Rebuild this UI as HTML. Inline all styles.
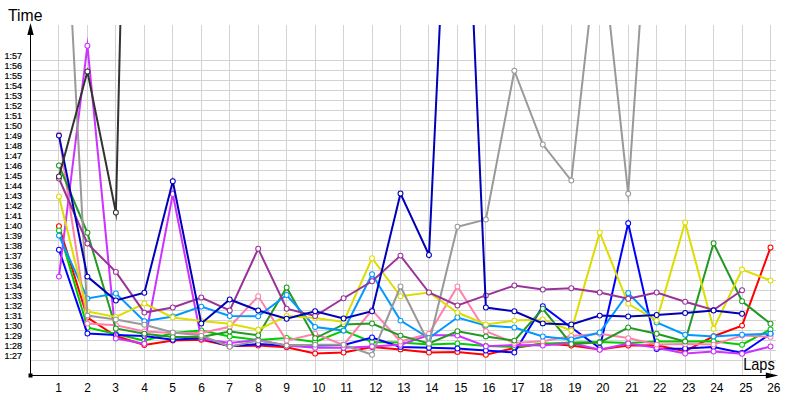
<!DOCTYPE html>
<html><head><meta charset="utf-8"><title>Lap times</title>
<style>
html,body{margin:0;padding:0;background:#fff;}
body{width:800px;height:400px;overflow:hidden;}
svg{display:block;}
text{font-family:"Liberation Sans","DejaVu Sans",sans-serif;fill:#000;}
.yl{font-size:9.7px;stroke:#000;stroke-width:0.2px;}
.xl{font-size:12px;}
.t{font-size:17px;}
.g{stroke:#d3d3d3;stroke-width:1;shape-rendering:crispEdges;}
.ax{stroke:#000;stroke-width:1;shape-rendering:crispEdges;}
.ln{fill:none;stroke-width:2;stroke-linejoin:miter;stroke-miterlimit:12;stroke-linecap:butt;}
.mk{fill:#fff;stroke-width:1.05;}
</style></head><body>
<svg width="800" height="400" viewBox="0 0 800 400">
<defs><clipPath id="cp"><rect x="31" y="25" width="760" height="350"/></clipPath></defs>
<rect width="800" height="400" fill="#fff"/>

<g class="g">
<line x1="31" y1="60.5" x2="776" y2="60.5"/>
<line x1="31" y1="70.5" x2="776" y2="70.5"/>
<line x1="31" y1="80.5" x2="776" y2="80.5"/>
<line x1="31" y1="90.5" x2="776" y2="90.5"/>
<line x1="31" y1="100.5" x2="776" y2="100.5"/>
<line x1="31" y1="110.5" x2="776" y2="110.5"/>
<line x1="31" y1="120.5" x2="776" y2="120.5"/>
<line x1="31" y1="130.5" x2="776" y2="130.5"/>
<line x1="31" y1="140.5" x2="776" y2="140.5"/>
<line x1="31" y1="150.5" x2="776" y2="150.5"/>
<line x1="31" y1="160.5" x2="776" y2="160.5"/>
<line x1="31" y1="170.5" x2="776" y2="170.5"/>
<line x1="31" y1="180.5" x2="776" y2="180.5"/>
<line x1="31" y1="190.5" x2="776" y2="190.5"/>
<line x1="31" y1="200.5" x2="776" y2="200.5"/>
<line x1="31" y1="210.5" x2="776" y2="210.5"/>
<line x1="31" y1="220.5" x2="776" y2="220.5"/>
<line x1="31" y1="230.5" x2="776" y2="230.5"/>
<line x1="31" y1="240.5" x2="776" y2="240.5"/>
<line x1="31" y1="250.5" x2="776" y2="250.5"/>
<line x1="31" y1="260.5" x2="776" y2="260.5"/>
<line x1="31" y1="270.5" x2="776" y2="270.5"/>
<line x1="31" y1="280.5" x2="776" y2="280.5"/>
<line x1="31" y1="290.5" x2="776" y2="290.5"/>
<line x1="31" y1="300.5" x2="776" y2="300.5"/>
<line x1="31" y1="310.5" x2="776" y2="310.5"/>
<line x1="31" y1="320.5" x2="776" y2="320.5"/>
<line x1="31" y1="330.5" x2="776" y2="330.5"/>
<line x1="31" y1="340.5" x2="776" y2="340.5"/>
<line x1="31" y1="350.5" x2="776" y2="350.5"/>
<line x1="31" y1="360.5" x2="776" y2="360.5"/>
<line x1="58.5" y1="25" x2="58.5" y2="375"/>
<line x1="87.5" y1="25" x2="87.5" y2="375"/>
<line x1="115.5" y1="25" x2="115.5" y2="375"/>
<line x1="144.5" y1="25" x2="144.5" y2="375"/>
<line x1="172.5" y1="25" x2="172.5" y2="375"/>
<line x1="201.5" y1="25" x2="201.5" y2="375"/>
<line x1="229.5" y1="25" x2="229.5" y2="375"/>
<line x1="258.5" y1="25" x2="258.5" y2="375"/>
<line x1="286.5" y1="25" x2="286.5" y2="375"/>
<line x1="315.5" y1="25" x2="315.5" y2="375"/>
<line x1="343.5" y1="25" x2="343.5" y2="375"/>
<line x1="372.5" y1="25" x2="372.5" y2="375"/>
<line x1="400.5" y1="25" x2="400.5" y2="375"/>
<line x1="428.5" y1="25" x2="428.5" y2="375"/>
<line x1="457.5" y1="25" x2="457.5" y2="375"/>
<line x1="485.5" y1="25" x2="485.5" y2="375"/>
<line x1="514.5" y1="25" x2="514.5" y2="375"/>
<line x1="542.5" y1="25" x2="542.5" y2="375"/>
<line x1="571.5" y1="25" x2="571.5" y2="375"/>
<line x1="599.5" y1="25" x2="599.5" y2="375"/>
<line x1="628.5" y1="25" x2="628.5" y2="375"/>
<line x1="656.5" y1="25" x2="656.5" y2="375"/>
<line x1="685.5" y1="25" x2="685.5" y2="375"/>
<line x1="713.5" y1="25" x2="713.5" y2="375"/>
<line x1="742.5" y1="25" x2="742.5" y2="375"/>
<line x1="770.5" y1="25" x2="770.5" y2="375"/>
</g>
<g clip-path="url(#cp)">
<g stroke="#ff0000"><polyline class="ln" points="58.96,226.25 87.42,317.5 115.88,336 144.35,345 172.81,340.6 201.27,339.75 229.73,346 258.19,345.6 286.65,347.25 315.12,353.5 343.58,352.5 372.04,347 400.50,349.4 428.96,352.5 457.42,351.9 485.88,354.75 514.35,348 542.81,343.5 571.27,345.6 599.73,349.4 628.19,345.6 656.65,345.3 685.12,351.25 713.58,336.25 742.04,325.6 770.50,247.5"/>
<circle class="mk" cx="58.96" cy="226.25" r="2.45"/>
<circle class="mk" cx="87.42" cy="317.5" r="2.45"/>
<circle class="mk" cx="115.88" cy="336" r="2.45"/>
<circle class="mk" cx="144.35" cy="345" r="2.45"/>
<circle class="mk" cx="172.81" cy="340.6" r="2.45"/>
<circle class="mk" cx="201.27" cy="339.75" r="2.45"/>
<circle class="mk" cx="229.73" cy="346" r="2.45"/>
<circle class="mk" cx="258.19" cy="345.6" r="2.45"/>
<circle class="mk" cx="286.65" cy="347.25" r="2.45"/>
<circle class="mk" cx="315.12" cy="353.5" r="2.45"/>
<circle class="mk" cx="343.58" cy="352.5" r="2.45"/>
<circle class="mk" cx="372.04" cy="347" r="2.45"/>
<circle class="mk" cx="400.50" cy="349.4" r="2.45"/>
<circle class="mk" cx="428.96" cy="352.5" r="2.45"/>
<circle class="mk" cx="457.42" cy="351.9" r="2.45"/>
<circle class="mk" cx="485.88" cy="354.75" r="2.45"/>
<circle class="mk" cx="514.35" cy="348" r="2.45"/>
<circle class="mk" cx="542.81" cy="343.5" r="2.45"/>
<circle class="mk" cx="571.27" cy="345.6" r="2.45"/>
<circle class="mk" cx="599.73" cy="349.4" r="2.45"/>
<circle class="mk" cx="628.19" cy="345.6" r="2.45"/>
<circle class="mk" cx="656.65" cy="345.3" r="2.45"/>
<circle class="mk" cx="685.12" cy="351.25" r="2.45"/>
<circle class="mk" cx="713.58" cy="336.25" r="2.45"/>
<circle class="mk" cx="742.04" cy="325.6" r="2.45"/>
<circle class="mk" cx="770.50" cy="247.5" r="2.45"/>
</g>
<g stroke="#00cc00"><polyline class="ln" points="58.96,230.4 87.42,327.5 115.88,334 144.35,340.6 172.81,333 201.27,330.5 229.73,336.5 258.19,340 286.65,338 315.12,342 343.58,330.6 372.04,341.9 400.50,342.5 428.96,344.4 457.42,343.5 485.88,346 514.35,347 542.81,343.75 571.27,342.5 599.73,341.9 628.19,343 656.65,341.5 685.12,341.5 713.58,341.25 742.04,344.75 770.50,329.4"/>
<circle class="mk" cx="58.96" cy="230.4" r="2.45"/>
<circle class="mk" cx="87.42" cy="327.5" r="2.45"/>
<circle class="mk" cx="115.88" cy="334" r="2.45"/>
<circle class="mk" cx="144.35" cy="340.6" r="2.45"/>
<circle class="mk" cx="172.81" cy="333" r="2.45"/>
<circle class="mk" cx="201.27" cy="330.5" r="2.45"/>
<circle class="mk" cx="229.73" cy="336.5" r="2.45"/>
<circle class="mk" cx="258.19" cy="340" r="2.45"/>
<circle class="mk" cx="286.65" cy="338" r="2.45"/>
<circle class="mk" cx="315.12" cy="342" r="2.45"/>
<circle class="mk" cx="343.58" cy="330.6" r="2.45"/>
<circle class="mk" cx="372.04" cy="341.9" r="2.45"/>
<circle class="mk" cx="400.50" cy="342.5" r="2.45"/>
<circle class="mk" cx="428.96" cy="344.4" r="2.45"/>
<circle class="mk" cx="457.42" cy="343.5" r="2.45"/>
<circle class="mk" cx="485.88" cy="346" r="2.45"/>
<circle class="mk" cx="514.35" cy="347" r="2.45"/>
<circle class="mk" cx="542.81" cy="343.75" r="2.45"/>
<circle class="mk" cx="571.27" cy="342.5" r="2.45"/>
<circle class="mk" cx="599.73" cy="341.9" r="2.45"/>
<circle class="mk" cx="628.19" cy="343" r="2.45"/>
<circle class="mk" cx="656.65" cy="341.5" r="2.45"/>
<circle class="mk" cx="685.12" cy="341.5" r="2.45"/>
<circle class="mk" cx="713.58" cy="341.25" r="2.45"/>
<circle class="mk" cx="742.04" cy="344.75" r="2.45"/>
<circle class="mk" cx="770.50" cy="329.4" r="2.45"/>
</g>
<g stroke="#0000ff"><polyline class="ln" points="58.96,249.75 87.42,333.5 115.88,335 144.35,336 172.81,339.75 201.27,338 229.73,346.25 258.19,344 286.65,345.6 315.12,345.6 343.58,345 372.04,337.5 400.50,346.9 428.96,347.75 457.42,348.5 485.88,350.6 514.35,352.5 542.81,306.25 571.27,327.5 599.73,348 628.19,223.25 656.65,349 685.12,348.5 713.58,346.9 742.04,353 770.50,333.75"/>
<circle class="mk" cx="58.96" cy="249.75" r="2.45"/>
<circle class="mk" cx="87.42" cy="333.5" r="2.45"/>
<circle class="mk" cx="115.88" cy="335" r="2.45"/>
<circle class="mk" cx="144.35" cy="336" r="2.45"/>
<circle class="mk" cx="172.81" cy="339.75" r="2.45"/>
<circle class="mk" cx="201.27" cy="338" r="2.45"/>
<circle class="mk" cx="229.73" cy="346.25" r="2.45"/>
<circle class="mk" cx="258.19" cy="344" r="2.45"/>
<circle class="mk" cx="286.65" cy="345.6" r="2.45"/>
<circle class="mk" cx="315.12" cy="345.6" r="2.45"/>
<circle class="mk" cx="343.58" cy="345" r="2.45"/>
<circle class="mk" cx="372.04" cy="337.5" r="2.45"/>
<circle class="mk" cx="400.50" cy="346.9" r="2.45"/>
<circle class="mk" cx="428.96" cy="347.75" r="2.45"/>
<circle class="mk" cx="457.42" cy="348.5" r="2.45"/>
<circle class="mk" cx="485.88" cy="350.6" r="2.45"/>
<circle class="mk" cx="514.35" cy="352.5" r="2.45"/>
<circle class="mk" cx="542.81" cy="306.25" r="2.45"/>
<circle class="mk" cx="571.27" cy="327.5" r="2.45"/>
<circle class="mk" cx="599.73" cy="348" r="2.45"/>
<circle class="mk" cx="628.19" cy="223.25" r="2.45"/>
<circle class="mk" cx="656.65" cy="349" r="2.45"/>
<circle class="mk" cx="685.12" cy="348.5" r="2.45"/>
<circle class="mk" cx="713.58" cy="346.9" r="2.45"/>
<circle class="mk" cx="742.04" cy="353" r="2.45"/>
<circle class="mk" cx="770.50" cy="333.75" r="2.45"/>
</g>
<g stroke="#cc33ff"><polyline class="ln" points="58.96,276.6 87.42,45.7 115.88,338.5 144.35,343.75 172.81,194 201.27,338.75 229.73,343 258.19,340 286.65,345.6 315.12,347.75 343.58,347.75 372.04,346.5 400.50,344.75 428.96,335 457.42,335.6 485.88,346.25 514.35,345 542.81,345.6 571.27,343 599.73,349.75 628.19,343.5 656.65,347.75 685.12,353.5 713.58,351.5 742.04,353.75 770.50,346.5"/>
<circle class="mk" cx="58.96" cy="276.6" r="2.45"/>
<circle class="mk" cx="87.42" cy="45.7" r="2.45"/>
<circle class="mk" cx="115.88" cy="338.5" r="2.45"/>
<circle class="mk" cx="144.35" cy="343.75" r="2.45"/>
<circle class="mk" cx="172.81" cy="194" r="2.45"/>
<circle class="mk" cx="201.27" cy="338.75" r="2.45"/>
<circle class="mk" cx="229.73" cy="343" r="2.45"/>
<circle class="mk" cx="258.19" cy="340" r="2.45"/>
<circle class="mk" cx="286.65" cy="345.6" r="2.45"/>
<circle class="mk" cx="315.12" cy="347.75" r="2.45"/>
<circle class="mk" cx="343.58" cy="347.75" r="2.45"/>
<circle class="mk" cx="372.04" cy="346.5" r="2.45"/>
<circle class="mk" cx="400.50" cy="344.75" r="2.45"/>
<circle class="mk" cx="428.96" cy="335" r="2.45"/>
<circle class="mk" cx="457.42" cy="335.6" r="2.45"/>
<circle class="mk" cx="485.88" cy="346.25" r="2.45"/>
<circle class="mk" cx="514.35" cy="345" r="2.45"/>
<circle class="mk" cx="542.81" cy="345.6" r="2.45"/>
<circle class="mk" cx="571.27" cy="343" r="2.45"/>
<circle class="mk" cx="599.73" cy="349.75" r="2.45"/>
<circle class="mk" cx="628.19" cy="343.5" r="2.45"/>
<circle class="mk" cx="656.65" cy="347.75" r="2.45"/>
<circle class="mk" cx="685.12" cy="353.5" r="2.45"/>
<circle class="mk" cx="713.58" cy="351.5" r="2.45"/>
<circle class="mk" cx="742.04" cy="353.75" r="2.45"/>
<circle class="mk" cx="770.50" cy="346.5" r="2.45"/>
</g>
<g stroke="#ff80aa"><polyline class="ln" points="58.96,134.5 87.42,323.6 115.88,325.3 144.35,331.5 172.81,333 201.27,333 229.73,326.8 258.19,296.25 286.65,340.6 315.12,333.75 343.58,345 372.04,310 400.50,341.5 428.96,333.75 457.42,286.5 485.88,331.25 514.35,343 542.81,341.25 571.27,336 599.73,333.75 628.19,338.1 656.65,344.6 685.12,344 713.58,344.6 742.04,335.6 770.50,336.9"/>
<circle class="mk" cx="58.96" cy="134.5" r="2.45"/>
<circle class="mk" cx="87.42" cy="323.6" r="2.45"/>
<circle class="mk" cx="115.88" cy="325.3" r="2.45"/>
<circle class="mk" cx="144.35" cy="331.5" r="2.45"/>
<circle class="mk" cx="172.81" cy="333" r="2.45"/>
<circle class="mk" cx="201.27" cy="333" r="2.45"/>
<circle class="mk" cx="229.73" cy="326.8" r="2.45"/>
<circle class="mk" cx="258.19" cy="296.25" r="2.45"/>
<circle class="mk" cx="286.65" cy="340.6" r="2.45"/>
<circle class="mk" cx="315.12" cy="333.75" r="2.45"/>
<circle class="mk" cx="343.58" cy="345" r="2.45"/>
<circle class="mk" cx="372.04" cy="310" r="2.45"/>
<circle class="mk" cx="400.50" cy="341.5" r="2.45"/>
<circle class="mk" cx="428.96" cy="333.75" r="2.45"/>
<circle class="mk" cx="457.42" cy="286.5" r="2.45"/>
<circle class="mk" cx="485.88" cy="331.25" r="2.45"/>
<circle class="mk" cx="514.35" cy="343" r="2.45"/>
<circle class="mk" cx="542.81" cy="341.25" r="2.45"/>
<circle class="mk" cx="571.27" cy="336" r="2.45"/>
<circle class="mk" cx="599.73" cy="333.75" r="2.45"/>
<circle class="mk" cx="628.19" cy="338.1" r="2.45"/>
<circle class="mk" cx="656.65" cy="344.6" r="2.45"/>
<circle class="mk" cx="685.12" cy="344" r="2.45"/>
<circle class="mk" cx="713.58" cy="344.6" r="2.45"/>
<circle class="mk" cx="742.04" cy="335.6" r="2.45"/>
<circle class="mk" cx="770.50" cy="336.9" r="2.45"/>
</g>
<g stroke="#229922"><polyline class="ln" points="58.96,165.5 87.42,232.75 115.88,328.5 144.35,333.65 172.81,336.9 201.27,337 229.73,331.5 258.19,335.25 286.65,287.5 315.12,338.3 343.58,324.4 372.04,323.5 400.50,335.6 428.96,343.5 457.42,331.25 485.88,336.4 514.35,340.6 542.81,308.75 571.27,344 599.73,342.4 628.19,327.5 656.65,333.75 685.12,341.5 713.58,243.25 742.04,301.25 770.50,323.75"/>
<circle class="mk" cx="58.96" cy="165.5" r="2.45"/>
<circle class="mk" cx="87.42" cy="232.75" r="2.45"/>
<circle class="mk" cx="115.88" cy="328.5" r="2.45"/>
<circle class="mk" cx="144.35" cy="333.65" r="2.45"/>
<circle class="mk" cx="172.81" cy="336.9" r="2.45"/>
<circle class="mk" cx="201.27" cy="337" r="2.45"/>
<circle class="mk" cx="229.73" cy="331.5" r="2.45"/>
<circle class="mk" cx="258.19" cy="335.25" r="2.45"/>
<circle class="mk" cx="286.65" cy="287.5" r="2.45"/>
<circle class="mk" cx="315.12" cy="338.3" r="2.45"/>
<circle class="mk" cx="343.58" cy="324.4" r="2.45"/>
<circle class="mk" cx="372.04" cy="323.5" r="2.45"/>
<circle class="mk" cx="400.50" cy="335.6" r="2.45"/>
<circle class="mk" cx="428.96" cy="343.5" r="2.45"/>
<circle class="mk" cx="457.42" cy="331.25" r="2.45"/>
<circle class="mk" cx="485.88" cy="336.4" r="2.45"/>
<circle class="mk" cx="514.35" cy="340.6" r="2.45"/>
<circle class="mk" cx="542.81" cy="308.75" r="2.45"/>
<circle class="mk" cx="571.27" cy="344" r="2.45"/>
<circle class="mk" cx="599.73" cy="342.4" r="2.45"/>
<circle class="mk" cx="628.19" cy="327.5" r="2.45"/>
<circle class="mk" cx="656.65" cy="333.75" r="2.45"/>
<circle class="mk" cx="685.12" cy="341.5" r="2.45"/>
<circle class="mk" cx="713.58" cy="243.25" r="2.45"/>
<circle class="mk" cx="742.04" cy="301.25" r="2.45"/>
<circle class="mk" cx="770.50" cy="323.75" r="2.45"/>
</g>
<g stroke="#0099ff"><polyline class="ln" points="58.96,235.6 87.42,298.5 115.88,293.5 144.35,321.25 172.81,316.5 201.27,306.6 229.73,316 258.19,316.25 286.65,295 315.12,327 343.58,330.6 372.04,274.25 400.50,320.6 428.96,338 457.42,317.5 485.88,325.6 514.35,327.5 542.81,336.5 571.27,339.4 599.73,332.5 628.19,293 656.65,322.5 685.12,334.75 713.58,336.5 742.04,334.75 770.50,333.75"/>
<circle class="mk" cx="58.96" cy="235.6" r="2.45"/>
<circle class="mk" cx="87.42" cy="298.5" r="2.45"/>
<circle class="mk" cx="115.88" cy="293.5" r="2.45"/>
<circle class="mk" cx="144.35" cy="321.25" r="2.45"/>
<circle class="mk" cx="172.81" cy="316.5" r="2.45"/>
<circle class="mk" cx="201.27" cy="306.6" r="2.45"/>
<circle class="mk" cx="229.73" cy="316" r="2.45"/>
<circle class="mk" cx="258.19" cy="316.25" r="2.45"/>
<circle class="mk" cx="286.65" cy="295" r="2.45"/>
<circle class="mk" cx="315.12" cy="327" r="2.45"/>
<circle class="mk" cx="343.58" cy="330.6" r="2.45"/>
<circle class="mk" cx="372.04" cy="274.25" r="2.45"/>
<circle class="mk" cx="400.50" cy="320.6" r="2.45"/>
<circle class="mk" cx="428.96" cy="338" r="2.45"/>
<circle class="mk" cx="457.42" cy="317.5" r="2.45"/>
<circle class="mk" cx="485.88" cy="325.6" r="2.45"/>
<circle class="mk" cx="514.35" cy="327.5" r="2.45"/>
<circle class="mk" cx="542.81" cy="336.5" r="2.45"/>
<circle class="mk" cx="571.27" cy="339.4" r="2.45"/>
<circle class="mk" cx="599.73" cy="332.5" r="2.45"/>
<circle class="mk" cx="628.19" cy="293" r="2.45"/>
<circle class="mk" cx="656.65" cy="322.5" r="2.45"/>
<circle class="mk" cx="685.12" cy="334.75" r="2.45"/>
<circle class="mk" cx="713.58" cy="336.5" r="2.45"/>
<circle class="mk" cx="742.04" cy="334.75" r="2.45"/>
<circle class="mk" cx="770.50" cy="333.75" r="2.45"/>
</g>
<g stroke="#dddd00"><polyline class="ln" points="58.96,196.5 87.42,311.5 115.88,317 144.35,303.5 172.81,317.5 201.27,321 229.73,323.75 258.19,329.75 286.65,316 315.12,318 343.58,322 372.04,258.25 400.50,296.25 428.96,292.5 457.42,312.5 485.88,324.4 514.35,320.6 542.81,319.4 571.27,330.6 599.73,232.5 628.19,303.75 656.65,320.6 685.12,222.5 713.58,328.75 742.04,269.5 770.50,280.5"/>
<circle class="mk" cx="58.96" cy="196.5" r="2.45"/>
<circle class="mk" cx="87.42" cy="311.5" r="2.45"/>
<circle class="mk" cx="115.88" cy="317" r="2.45"/>
<circle class="mk" cx="144.35" cy="303.5" r="2.45"/>
<circle class="mk" cx="172.81" cy="317.5" r="2.45"/>
<circle class="mk" cx="201.27" cy="321" r="2.45"/>
<circle class="mk" cx="229.73" cy="323.75" r="2.45"/>
<circle class="mk" cx="258.19" cy="329.75" r="2.45"/>
<circle class="mk" cx="286.65" cy="316" r="2.45"/>
<circle class="mk" cx="315.12" cy="318" r="2.45"/>
<circle class="mk" cx="343.58" cy="322" r="2.45"/>
<circle class="mk" cx="372.04" cy="258.25" r="2.45"/>
<circle class="mk" cx="400.50" cy="296.25" r="2.45"/>
<circle class="mk" cx="428.96" cy="292.5" r="2.45"/>
<circle class="mk" cx="457.42" cy="312.5" r="2.45"/>
<circle class="mk" cx="485.88" cy="324.4" r="2.45"/>
<circle class="mk" cx="514.35" cy="320.6" r="2.45"/>
<circle class="mk" cx="542.81" cy="319.4" r="2.45"/>
<circle class="mk" cx="571.27" cy="330.6" r="2.45"/>
<circle class="mk" cx="599.73" cy="232.5" r="2.45"/>
<circle class="mk" cx="628.19" cy="303.75" r="2.45"/>
<circle class="mk" cx="656.65" cy="320.6" r="2.45"/>
<circle class="mk" cx="685.12" cy="222.5" r="2.45"/>
<circle class="mk" cx="713.58" cy="328.75" r="2.45"/>
<circle class="mk" cx="742.04" cy="269.5" r="2.45"/>
<circle class="mk" cx="770.50" cy="280.5" r="2.45"/>
</g>
<g stroke="#999999"><polyline class="ln" points="58.96,-230 87.42,315.6 115.88,319.5 144.35,324.75 172.81,332.5 201.27,335.6 229.73,346.75 258.19,340.6 286.65,345.6 315.12,344.75 343.58,344.75 372.04,354.75 400.50,286.5 428.96,343.5 457.42,226.75 485.88,219.5 514.35,70.75 542.81,144.5 571.27,180.5 599.73,-72 628.19,193.75 656.65,-223"/>
<circle class="mk" cx="87.42" cy="315.6" r="2.45"/>
<circle class="mk" cx="115.88" cy="319.5" r="2.45"/>
<circle class="mk" cx="144.35" cy="324.75" r="2.45"/>
<circle class="mk" cx="172.81" cy="332.5" r="2.45"/>
<circle class="mk" cx="201.27" cy="335.6" r="2.45"/>
<circle class="mk" cx="229.73" cy="346.75" r="2.45"/>
<circle class="mk" cx="258.19" cy="340.6" r="2.45"/>
<circle class="mk" cx="286.65" cy="345.6" r="2.45"/>
<circle class="mk" cx="315.12" cy="344.75" r="2.45"/>
<circle class="mk" cx="343.58" cy="344.75" r="2.45"/>
<circle class="mk" cx="372.04" cy="354.75" r="2.45"/>
<circle class="mk" cx="400.50" cy="286.5" r="2.45"/>
<circle class="mk" cx="428.96" cy="343.5" r="2.45"/>
<circle class="mk" cx="457.42" cy="226.75" r="2.45"/>
<circle class="mk" cx="485.88" cy="219.5" r="2.45"/>
<circle class="mk" cx="514.35" cy="70.75" r="2.45"/>
<circle class="mk" cx="542.81" cy="144.5" r="2.45"/>
<circle class="mk" cx="571.27" cy="180.5" r="2.45"/>
<circle class="mk" cx="628.19" cy="193.75" r="2.45"/>
</g>
<g stroke="#993399"><polyline class="ln" points="58.96,178.5 87.42,243.5 115.88,271.9 144.35,312.6 172.81,307.5 201.27,297.5 229.73,310.5 258.19,248.75 286.65,308.75 315.12,316 343.58,298.25 372.04,281.25 400.50,255.6 428.96,292.5 457.42,305.5 485.88,295.4 514.35,285.5 542.81,289.5 571.27,288.25 599.73,292.5 628.19,298.75 656.65,292.5 685.12,301.75 713.58,310 742.04,290.3"/>
<circle class="mk" cx="58.96" cy="178.5" r="2.45"/>
<circle class="mk" cx="87.42" cy="243.5" r="2.45"/>
<circle class="mk" cx="115.88" cy="271.9" r="2.45"/>
<circle class="mk" cx="144.35" cy="312.6" r="2.45"/>
<circle class="mk" cx="172.81" cy="307.5" r="2.45"/>
<circle class="mk" cx="201.27" cy="297.5" r="2.45"/>
<circle class="mk" cx="229.73" cy="310.5" r="2.45"/>
<circle class="mk" cx="258.19" cy="248.75" r="2.45"/>
<circle class="mk" cx="286.65" cy="308.75" r="2.45"/>
<circle class="mk" cx="315.12" cy="316" r="2.45"/>
<circle class="mk" cx="343.58" cy="298.25" r="2.45"/>
<circle class="mk" cx="372.04" cy="281.25" r="2.45"/>
<circle class="mk" cx="400.50" cy="255.6" r="2.45"/>
<circle class="mk" cx="428.96" cy="292.5" r="2.45"/>
<circle class="mk" cx="457.42" cy="305.5" r="2.45"/>
<circle class="mk" cx="485.88" cy="295.4" r="2.45"/>
<circle class="mk" cx="514.35" cy="285.5" r="2.45"/>
<circle class="mk" cx="542.81" cy="289.5" r="2.45"/>
<circle class="mk" cx="571.27" cy="288.25" r="2.45"/>
<circle class="mk" cx="599.73" cy="292.5" r="2.45"/>
<circle class="mk" cx="628.19" cy="298.75" r="2.45"/>
<circle class="mk" cx="656.65" cy="292.5" r="2.45"/>
<circle class="mk" cx="685.12" cy="301.75" r="2.45"/>
<circle class="mk" cx="713.58" cy="310" r="2.45"/>
<circle class="mk" cx="742.04" cy="290.3" r="2.45"/>
</g>
<g stroke="#0000b8"><polyline class="ln" points="58.96,135.6 87.42,276.6 115.88,300.5 144.35,292.75 172.81,181.25 201.27,323.5 229.73,299.5 258.19,310.5 286.65,318.75 315.12,311.25 343.58,318.5 372.04,311.25 400.50,193.5 428.96,255 457.42,-350 485.88,307.5 514.35,311.25 542.81,323.4 571.27,324.4 599.73,315.6 628.19,316.5 656.65,315 685.12,313 713.58,310.5 742.04,313.75"/>
<circle class="mk" cx="58.96" cy="135.6" r="2.45"/>
<circle class="mk" cx="87.42" cy="276.6" r="2.45"/>
<circle class="mk" cx="115.88" cy="300.5" r="2.45"/>
<circle class="mk" cx="144.35" cy="292.75" r="2.45"/>
<circle class="mk" cx="172.81" cy="181.25" r="2.45"/>
<circle class="mk" cx="201.27" cy="323.5" r="2.45"/>
<circle class="mk" cx="229.73" cy="299.5" r="2.45"/>
<circle class="mk" cx="258.19" cy="310.5" r="2.45"/>
<circle class="mk" cx="286.65" cy="318.75" r="2.45"/>
<circle class="mk" cx="315.12" cy="311.25" r="2.45"/>
<circle class="mk" cx="343.58" cy="318.5" r="2.45"/>
<circle class="mk" cx="372.04" cy="311.25" r="2.45"/>
<circle class="mk" cx="400.50" cy="193.5" r="2.45"/>
<circle class="mk" cx="428.96" cy="255" r="2.45"/>
<circle class="mk" cx="485.88" cy="307.5" r="2.45"/>
<circle class="mk" cx="514.35" cy="311.25" r="2.45"/>
<circle class="mk" cx="542.81" cy="323.4" r="2.45"/>
<circle class="mk" cx="571.27" cy="324.4" r="2.45"/>
<circle class="mk" cx="599.73" cy="315.6" r="2.45"/>
<circle class="mk" cx="628.19" cy="316.5" r="2.45"/>
<circle class="mk" cx="656.65" cy="315" r="2.45"/>
<circle class="mk" cx="685.12" cy="313" r="2.45"/>
<circle class="mk" cx="713.58" cy="310.5" r="2.45"/>
<circle class="mk" cx="742.04" cy="313.75" r="2.45"/>
</g>
<g stroke="#333333"><polyline class="ln" points="58.96,176.5 87.42,71.5 115.88,212.5 144.35,-985"/>
<circle class="mk" cx="58.96" cy="176.5" r="2.45"/>
<circle class="mk" cx="87.42" cy="71.5" r="2.45"/>
<circle class="mk" cx="115.88" cy="212.5" r="2.45"/>
</g>
</g>
<line class="ax" x1="30.5" y1="30" x2="30.5" y2="376"/>
<line class="ax" x1="30" y1="375.5" x2="775" y2="375.5"/>
<rect x="28.5" y="373.5" width="4" height="4" fill="#000"/>
<polygon points="30.5,23 33.7,35 27.3,35" fill="#000"/>
<polygon points="778.3,375.5 765.8,372.4 765.8,378.6" fill="#000"/>
<text class="t" x="8" y="21" textLength="34.4" lengthAdjust="spacingAndGlyphs">Time</text>
<text class="t" x="743.2" y="370.3" textLength="31.5" lengthAdjust="spacingAndGlyphs">Laps</text>
<text class="yl" x="4.5" y="59.0" textLength="17.5" lengthAdjust="spacingAndGlyphs">1:57</text>
<text class="yl" x="4.5" y="69.0" textLength="17.5" lengthAdjust="spacingAndGlyphs">1:56</text>
<text class="yl" x="4.5" y="79.0" textLength="17.5" lengthAdjust="spacingAndGlyphs">1:55</text>
<text class="yl" x="4.5" y="89.0" textLength="17.5" lengthAdjust="spacingAndGlyphs">1:54</text>
<text class="yl" x="4.5" y="99.0" textLength="17.5" lengthAdjust="spacingAndGlyphs">1:53</text>
<text class="yl" x="4.5" y="109.0" textLength="17.5" lengthAdjust="spacingAndGlyphs">1:52</text>
<text class="yl" x="4.5" y="119.0" textLength="17.5" lengthAdjust="spacingAndGlyphs">1:51</text>
<text class="yl" x="4.5" y="129.0" textLength="17.5" lengthAdjust="spacingAndGlyphs">1:50</text>
<text class="yl" x="4.5" y="139.0" textLength="17.5" lengthAdjust="spacingAndGlyphs">1:49</text>
<text class="yl" x="4.5" y="149.0" textLength="17.5" lengthAdjust="spacingAndGlyphs">1:48</text>
<text class="yl" x="4.5" y="159.0" textLength="17.5" lengthAdjust="spacingAndGlyphs">1:47</text>
<text class="yl" x="4.5" y="169.0" textLength="17.5" lengthAdjust="spacingAndGlyphs">1:46</text>
<text class="yl" x="4.5" y="179.0" textLength="17.5" lengthAdjust="spacingAndGlyphs">1:45</text>
<text class="yl" x="4.5" y="189.0" textLength="17.5" lengthAdjust="spacingAndGlyphs">1:44</text>
<text class="yl" x="4.5" y="199.0" textLength="17.5" lengthAdjust="spacingAndGlyphs">1:43</text>
<text class="yl" x="4.5" y="209.0" textLength="17.5" lengthAdjust="spacingAndGlyphs">1:42</text>
<text class="yl" x="4.5" y="219.0" textLength="17.5" lengthAdjust="spacingAndGlyphs">1:41</text>
<text class="yl" x="4.5" y="229.0" textLength="17.5" lengthAdjust="spacingAndGlyphs">1:40</text>
<text class="yl" x="4.5" y="239.0" textLength="17.5" lengthAdjust="spacingAndGlyphs">1:39</text>
<text class="yl" x="4.5" y="249.0" textLength="17.5" lengthAdjust="spacingAndGlyphs">1:38</text>
<text class="yl" x="4.5" y="259.0" textLength="17.5" lengthAdjust="spacingAndGlyphs">1:37</text>
<text class="yl" x="4.5" y="269.0" textLength="17.5" lengthAdjust="spacingAndGlyphs">1:36</text>
<text class="yl" x="4.5" y="279.0" textLength="17.5" lengthAdjust="spacingAndGlyphs">1:35</text>
<text class="yl" x="4.5" y="289.0" textLength="17.5" lengthAdjust="spacingAndGlyphs">1:34</text>
<text class="yl" x="4.5" y="299.0" textLength="17.5" lengthAdjust="spacingAndGlyphs">1:33</text>
<text class="yl" x="4.5" y="309.0" textLength="17.5" lengthAdjust="spacingAndGlyphs">1:32</text>
<text class="yl" x="4.5" y="319.0" textLength="17.5" lengthAdjust="spacingAndGlyphs">1:31</text>
<text class="yl" x="4.5" y="329.0" textLength="17.5" lengthAdjust="spacingAndGlyphs">1:30</text>
<text class="yl" x="4.5" y="339.0" textLength="17.5" lengthAdjust="spacingAndGlyphs">1:29</text>
<text class="yl" x="4.5" y="349.0" textLength="17.5" lengthAdjust="spacingAndGlyphs">1:28</text>
<text class="yl" x="4.5" y="359.0" textLength="17.5" lengthAdjust="spacingAndGlyphs">1:27</text>
<text class="xl" x="55.2" y="392">1</text>
<text class="xl" x="84.2" y="392">2</text>
<text class="xl" x="112.2" y="392">3</text>
<text class="xl" x="141.2" y="392">4</text>
<text class="xl" x="169.2" y="392">5</text>
<text class="xl" x="198.2" y="392">6</text>
<text class="xl" x="226.2" y="392">7</text>
<text class="xl" x="255.2" y="392">8</text>
<text class="xl" x="283.2" y="392">9</text>
<text class="xl" x="312.2" y="392">10</text>
<text class="xl" x="340.2" y="392">11</text>
<text class="xl" x="369.2" y="392">12</text>
<text class="xl" x="397.2" y="392">13</text>
<text class="xl" x="425.2" y="392">14</text>
<text class="xl" x="454.2" y="392">15</text>
<text class="xl" x="482.2" y="392">16</text>
<text class="xl" x="511.2" y="392">17</text>
<text class="xl" x="539.2" y="392">18</text>
<text class="xl" x="568.2" y="392">19</text>
<text class="xl" x="596.2" y="392">20</text>
<text class="xl" x="625.2" y="392">21</text>
<text class="xl" x="653.2" y="392">22</text>
<text class="xl" x="682.2" y="392">23</text>
<text class="xl" x="710.2" y="392">24</text>
<text class="xl" x="739.2" y="392">25</text>
<text class="xl" x="767.2" y="392">26</text>
</svg></body></html>
